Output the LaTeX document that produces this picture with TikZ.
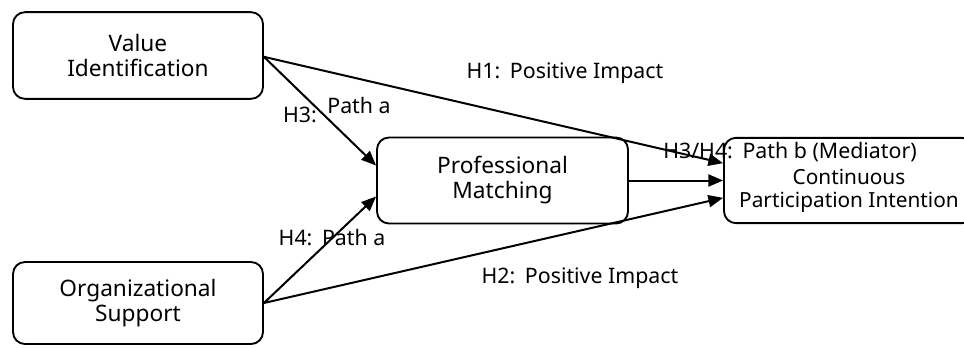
\documentclass[tikz,border=0pt]{standalone}
\usepackage{fontspec}
\setmainfont{Noto Sans}
\usetikzlibrary{arrows.meta}
\newcommand{\hcolon}{:\hspace{0.45em}}
\begin{document}
\begin{tikzpicture}[x=0.75pt,y=-0.75pt,
  box/.style={draw, line width=1.4pt, rounded corners=9pt, minimum width=187.5pt,
    minimum height=65pt, inner sep=0pt, align=center,
    font=\fontsize{17}{18.75}\selectfont},
  lab/.style={inner sep=0pt, font=\fontsize{16}{18}\selectfont},
  arr/.style={line width=1.5pt, -{Triangle[length=11pt,width=9pt]}}]
\useasboundingbox (0,0) rectangle (964,347);
\node[box] (vi) at (138,55.5) {Value\\Identification};
\node[box, minimum height=61.5pt] (os) at (138,303) {Organizational\\Support};
\node[box, minimum width=188.25pt, minimum height=64.5pt] (pm) at (502.5,180.5) {Professional\\Matching};
\node[box, minimum height=64pt] (cpi) at (849,180.5) {};
\node[inner sep=0pt, align=center, font=\fontsize{15.6}{17.25}\selectfont] (cpit) at (849,191) {Continuous\\Participation Intention};
\draw[arr] ([yshift=-1pt]vi.east) -- ([yshift=11.25pt]pm.west);
\draw[arr] ([yshift=-1pt]vi.east) -- ([yshift=13pt]cpi.west);
\draw[arr] (os.east) -- ([yshift=-12pt]pm.west);
\draw[arr] (os.east) -- ([yshift=-13pt]cpi.west);
\draw[arr] (pm.east) -- (cpi.west);
\node[lab] (l1) at (565,73) {H1\hcolon Positive Impact};
\node[lab] (l2) at (580,278) {H2\hcolon Positive Impact};
\node[lab] (l3) at (300,115) {H3:};
\node[lab] (l3b) at (359,105) {Path a};
\node[lab] (l4) at (332,238) {H4\hcolon Path a};
\node[lab] (l5) at (790,152) {H3/H4\hcolon Path b (Mediator)};
\end{tikzpicture}
\end{document}
